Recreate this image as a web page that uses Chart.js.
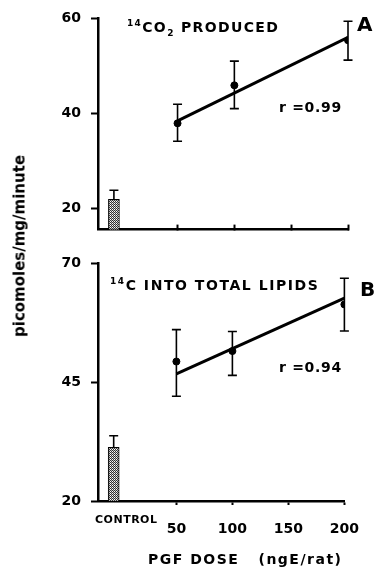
<!DOCTYPE html>
<html>
<head>
<meta charset="utf-8">
<script src="https://cdn.jsdelivr.net/npm/chart.js@4"></script>
<style>
  body { margin: 0; background: #fff; }
  #wrap { position: relative; width: 375px; height: 576px; overflow: hidden; font-family: "DejaVu Sans", sans-serif; font-weight: bold; color: #000; }
  canvas { position: absolute; left: 0; }
  .lbl { position: absolute; white-space: nowrap; line-height: 1; }
  .lbl sup, .lbl sub { font-size: 9px; line-height: 0; }
</style>
</head>
<body>
<div id="wrap">
  <canvas id="chartA" width="375" height="248" style="top:0"></canvas>
  <canvas id="chartB" width="375" height="336" style="top:240px"></canvas>

  <div class="lbl" style="left:127px; top:20px; font-size:14px; letter-spacing:1.35px;"><sup>14</sup>CO<sub>2</sub> PRODUCED</div>
  <div class="lbl" style="left:357px; top:14px; font-size:20px;">A</div>
  <div class="lbl" style="left:279px; top:100px; font-size:14px; letter-spacing:0.7px;">r =0.99</div>

  <div class="lbl" style="left:110px; top:278px; font-size:14px; letter-spacing:1.55px;"><sup>14</sup>C INTO TOTAL LIPIDS</div>
  <div class="lbl" style="left:360px; top:279px; font-size:20px;">B</div>
  <div class="lbl" style="left:279px; top:360px; font-size:14px; letter-spacing:0.7px;">r =0.94</div>

  <div class="lbl" style="left:95px; top:514px; font-size:11px; letter-spacing:0.5px;">CONTROL</div>
  <div class="lbl" style="left:148px; top:552px; font-size:14px; letter-spacing:1.5px;">PGF DOSE &nbsp;&nbsp;(ngE/rat)</div>
  <div class="lbl" style="left:20px; top:246px; font-size:15px; transform: translate(-50%, -50%) rotate(-90deg);">picomoles/mg/minute</div>
</div>

<script>
// dose levels (ngE/rat) and control bar position on the dose axis
const doses = [50, 100, 200];
const fitDoses = [50, 200];
const controlX = -6;

// panel A: 14CO2 produced
const co2Mean = [37.9, 45.9, 55.4];
const co2Upper = [41.9, 51.0, 59.4];
const co2Lower = [34.1, 41.0, 51.2];
const co2Fit = [38.4, 56.0];
const co2Control = 21.9;
const co2ControlUpper = 23.8;
const co2Ticks = [20, 40, 60];

// panel B: 14C into total lipids
const lipMean = [49.3, 51.5, 61.3];
const lipUpper = [56.0, 55.6, 66.8];
const lipLower = [42.0, 46.4, 55.7];
const lipFit = [46.7, 62.6];
const lipControl = 31.3;
const lipControlUpper = 33.7;
const lipTicks = [20, 45, 70];

const doseTicks = [50, 100, 150, 200];

const tickFont = { family: "DejaVu Sans", weight: "bold", size: 14 };

// stippled fill for the control bar
function stipple() {
    const c = document.createElement("canvas");
    c.width = 2; c.height = 2;
    const g = c.getContext("2d");
    g.fillStyle = "#fff";
    g.fillRect(0, 0, 2, 2);
    g.fillStyle = "#333";
    g.fillRect(0, 0, 1, 1);
    g.fillRect(1, 1, 1, 1);
    g.fillStyle = "#bbb";
    g.fillRect(1, 0, 1, 1);
    return g.createPattern(c, "repeat");
}

// vertical error bars drawn through the chart scales
const errorBars = {
    id: "errorBars",
    afterDatasetsDraw(chart, args, opts) {
        const ctx = chart.ctx;
        const xs = chart.scales.x, ys = chart.scales.y;
        ctx.save();
        ctx.strokeStyle = "#000";
        ctx.lineWidth = 1.6;
        opts.x.forEach((xv, i) => {
            const px = xs.getPixelForValue(xv);
            const top = ys.getPixelForValue(opts.upper[i]);
            const bot = ys.getPixelForValue(opts.lower[i]);
            ctx.beginPath();
            ctx.moveTo(px, top); ctx.lineTo(px, bot);
            ctx.moveTo(px - 4.5, top); ctx.lineTo(px + 4.5, top);
            if (opts.lower[i] !== opts.base[i]) {
                ctx.moveTo(px - 4.5, bot); ctx.lineTo(px + 4.5, bot);
            }
            ctx.stroke();
        });
        ctx.restore();
    }
};

function makeChart(id, cfg) {
    return new Chart(document.getElementById(id), {
        data: {
            datasets: [
                {
                    type: "bar",
                    data: [{ x: controlX, y: cfg.control }],
                    backgroundColor: stipple(),
                    borderColor: "#000",
                    borderWidth: 1,
                    barThickness: 11
                },
                {
                    type: "line",
                    data: fitDoses.map((d, i) => ({ x: d, y: cfg.fit[i] })),
                    borderColor: "#000",
                    borderWidth: 3,
                    pointRadius: 0
                },
                {
                    type: "scatter",
                    data: doses.map((d, i) => ({ x: d, y: cfg.mean[i] })),
                    backgroundColor: "#000",
                    borderColor: "#000",
                    pointRadius: 3.5
                }
            ]
        },
        options: {
            responsive: false,
            animation: false,
            devicePixelRatio: 1,
            layout: { padding: { top: cfg.padTop, right: 27, left: 0, bottom: 0 } },
            plugins: {
                legend: { display: false },
                tooltip: { enabled: false },
                errorBars: {
                    x: [controlX].concat(doses),
                    upper: [cfg.controlUpper].concat(cfg.upper),
                    lower: [cfg.control].concat(cfg.lower),
                    base: [cfg.control].concat([null, null, null])
                }
            },
            scales: {
                x: {
                    type: "linear",
                    offset: false,
                    min: -20,
                    max: 200,
                    afterBuildTicks: s => { s.ticks = doseTicks.map(v => ({ value: v })); },
                    afterFit: s => { s.height = cfg.xHeight; },
                    grid: { offset: false, drawOnChartArea: false, drawTicks: true, tickLength: cfg.xTickLen, tickWidth: 2, color: "#000" },
                    border: { display: true, color: "#000", width: 2.5 },
                    ticks: { display: cfg.xLabels, color: "#000", font: tickFont, padding: 16, maxRotation: 0 }
                },
                y: {
                    type: "linear",
                    min: cfg.yMin,
                    max: cfg.yMax,
                    afterBuildTicks: s => { s.ticks = cfg.yTicks.map(v => ({ value: v })); },
                    afterFit: s => { s.width = 98; },
                    grid: { drawOnChartArea: false, drawTicks: true, tickLength: 7, tickWidth: 2, color: "#000" },
                    border: { display: true, color: "#000", width: 2.5 },
                    ticks: { color: "#000", font: tickFont, padding: 10 }
                }
            }
        },
        plugins: [errorBars]
    });
}

// panel A: dose ticks point up into the plot
makeChart("chartA", {
    mean: co2Mean, upper: co2Upper, lower: co2Lower, fit: co2Fit,
    control: co2Control, controlUpper: co2ControlUpper,
    yMin: 15.5, yMax: 60, yTicks: co2Ticks,
    padTop: 17, xHeight: 4, xLabels: false, xTickLen: -5
});

makeChart("chartB", {
    mean: lipMean, upper: lipUpper, lower: lipLower, fit: lipFit,
    control: lipControl, controlUpper: lipControlUpper,
    yMin: 20, yMax: 70, yTicks: lipTicks,
    padTop: 23, xHeight: 75, xLabels: true, xTickLen: 4
});
</script>
</body>
</html>
